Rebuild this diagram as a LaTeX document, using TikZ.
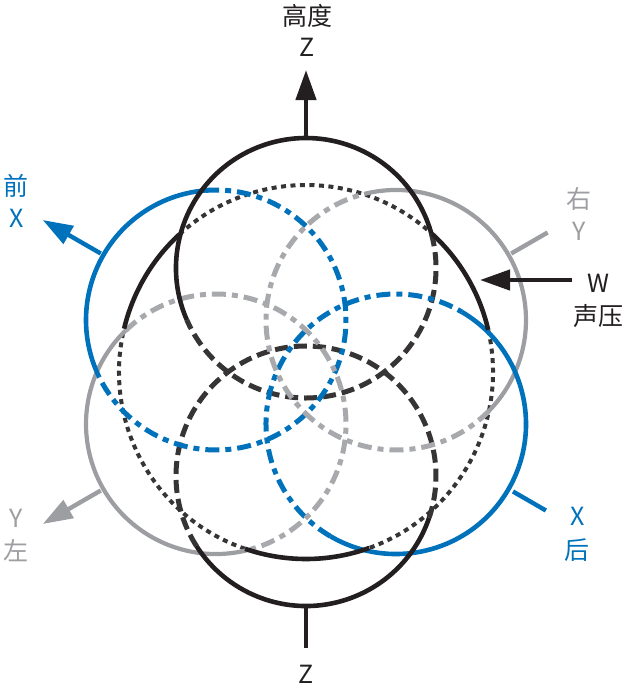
\documentclass[tikz,border=0pt]{standalone}
\usepackage{fontspec}
\newfontfamily\cjk{Noto Sans CJK SC}
\usetikzlibrary{arrows.meta,calc}
\definecolor{cblack}{HTML}{231F20}
\definecolor{cdark}{HTML}{363435}
\definecolor{cblue}{HTML}{0072BC}
\definecolor{cgray}{HTML}{9C9EA1}
\definecolor{cgrayd}{HTML}{A7A9AC}
\tikzset{
  solidblack/.style={draw=cblack, line width=4.6pt},
  dashz/.style={draw=cdark, line width=5pt, dash pattern=on 13pt off 6pt},
  dotw/.style={draw=cdark, line width=4pt, dash pattern=on 5pt off 4.5pt},
  solidblue/.style={draw=cblue, line width=4.6pt},
  dashblue/.style={draw=cblue, line width=5pt, dash pattern=on 14pt off 6pt on 6pt off 6pt},
  solidgray/.style={draw=cgray, line width=4.2pt},
  dashgray/.style={draw=cgrayd, line width=5pt, dash pattern=on 14pt off 6pt on 6pt off 6pt},
  lab/.style={font=\cjk\fontsize{25}{30}\selectfont, inner sep=0pt, anchor=base},
  tip/.style={-{Triangle[length=30pt,width=20pt]}},
}
\begin{document}
\begin{tikzpicture}[x=1pt,y=-1pt]
\useasboundingbox (0,0) rectangle (628,697);
% centres
\coordinate (C) at (306,372);
\coordinate (Zu) at (306,268);
\coordinate (Zd) at (306,476);
\coordinate (F) at (216,320);
\coordinate (R) at (396,320);
\coordinate (L) at (216,424);
\coordinate (B) at (396,424);

% W sphere, dotted (hidden) parts
\draw[dotw] (C) ++(109:187) arc[start angle=109, end angle=193.4, radius=187];
\draw[dotw] (C) ++(227.4:187) arc[start angle=227.4, end angle=312.4, radius=187];
\draw[dotw] (C) ++(347:187) arc[start angle=347, end angle=430.2, radius=187];

% hidden parts of the lobes
\draw[dashz] (Zu) ++(344.6:130) arc[start angle=344.6, end angle=516.4, radius=130];
\draw[dashz] (Zd) ++(147.4:130) arc[start angle=147.4, end angle=378.7, radius=130];
\draw[dashblue] (F) ++(265.2:130) arc[start angle=265.2, end angle=514, radius=130];
\draw[dashblue] (B) ++(120.3:130) arc[start angle=120.3, end angle=300.4, radius=130];
\draw[dashgray] (R) ++(44.4:130) arc[start angle=44.4, end angle=255.8, radius=130];
\draw[dashgray] (L) ++(225.9:130) arc[start angle=225.9, end angle=436.2, radius=130];

% visible parts of the lobes
\draw[solidgray] (R) ++(255.8:130) arc[start angle=255.8, end angle=404.4, radius=130];
\draw[solidgray] (L) ++(76.2:130) arc[start angle=76.2, end angle=225.9, radius=130];
\draw[solidblue] (F) ++(154:130) arc[start angle=154, end angle=265.2, radius=130];
\draw[solidblue] (B) ++(300.4:130) arc[start angle=300.4, end angle=480.3, radius=130];
\draw[solidblack] (Zu) ++(156.4:130) arc[start angle=156.4, end angle=344.6, radius=130];
\draw[solidblack] (Zd) ++(18.7:130) arc[start angle=18.7, end angle=147.4, radius=130];

% W sphere, visible parts
\draw[solidblack] (C) ++(193.4:187) arc[start angle=193.4, end angle=227.4, radius=187];
\draw[solidblack] (C) ++(312.4:187) arc[start angle=312.4, end angle=347, radius=187];
\draw[solidblack] (C) ++(70.2:187) arc[start angle=70.2, end angle=109, radius=187];

% axes
\coordinate (zuS) at ($(C)+(270:235)$);
\coordinate (zuE) at ($(C)+(270:302)$);
\coordinate (zdS) at ($(C)+(90:235)$);
\coordinate (zdE) at ($(C)+(90:276)$);
\coordinate (fS) at ($(C)+(210:237)$);
\coordinate (fE) at ($(C)+(210:304)$);
\coordinate (lS) at ($(C)+(150:237)$);
\coordinate (lE) at ($(C)+(150:304)$);
\coordinate (rS) at ($(C)+(330:237)$);
\coordinate (rE) at ($(C)+(330:279)$);
\coordinate (bS) at ($(C)+(30:239)$);
\coordinate (bE) at ($(C)+(30:277)$);
\coordinate (wS) at (572,280);
\coordinate (wE) at (480,280);

\draw[solidblack, line width=4.4pt, tip] (zuS) -- (zuE);
\draw[solidblack, line width=4.4pt] (zdS) -- (zdE);
\draw[solidblue, line width=4.4pt, tip] (fS) -- (fE);
\draw[solidgray, line width=4.4pt, tip] (lS) -- (lE);
\draw[solidgray, line width=4.4pt] (rS) -- (rE);
\draw[solidblue, line width=4.4pt] (bS) -- (bE);
\draw[solidblack, line width=4.4pt, tip] (wS) -- (wE);

% labels
\node[lab, text=cblack] (hZa) at (307,25) {高度};
\node[lab, text=cblack] (hZb) at (307,56.5) {Z};
\node[lab, text=cblue] (fXa) at (16.5,195) {前};
\node[lab, text=cblue] (fXb) at (16.5,227) {X};
\node[lab, text=cgray] (rYa) at (578.5,208) {右};
\node[lab, text=cgray] (rYb) at (579,240) {Y};
\node[lab, text=cblack] (wa) at (598.5,292) {W};
\node[lab, text=cblack] (wb) at (598.5,325) {声压};
\node[lab, text=cgray] (lYa) at (16.5,527) {Y};
\node[lab, text=cgray] (lYb) at (16,560) {左};
\node[lab, text=cblue] (bXa) at (577.5,525) {X};
\node[lab, text=cblue] (bXb) at (577,559) {后};
\node[lab, text=cblack] (dZ) at (306,683) {Z};
\end{tikzpicture}
\end{document}
